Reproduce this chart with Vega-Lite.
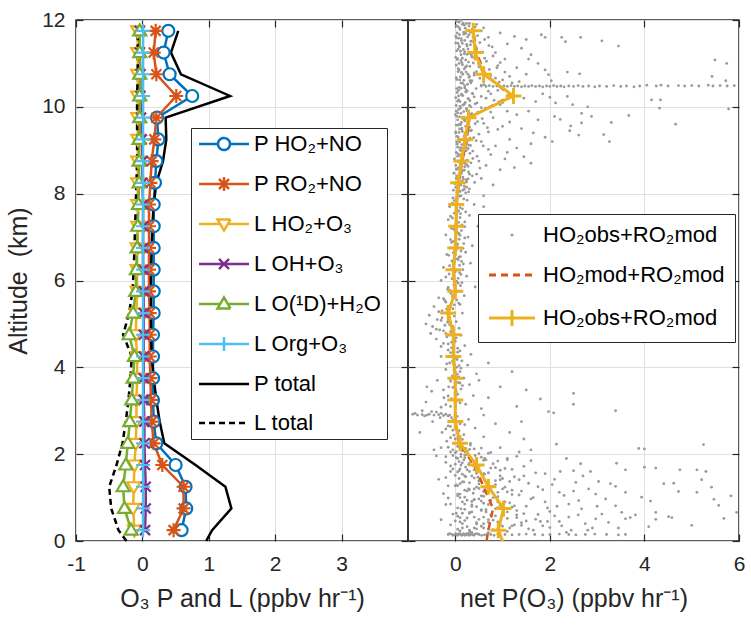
{
"$schema": "https://vega.github.io/schema/vega-lite/v6.json",
"background": "white",
"padding": {"left": 5, "top": 8, "right": 5, "bottom": 5},
"spacing": 0,
"bounds": "flush",
"datasets": {
"prof": [
{"s":"P HO₂+NO","a":0.25,"v":0.59},{"s":"P HO₂+NO","a":0.75,"v":0.66},{"s":"P HO₂+NO","a":1.25,"v":0.65},{"s":"P HO₂+NO","a":1.75,"v":0.5},{"s":"P HO₂+NO","a":2.25,"v":0.21},{"s":"P HO₂+NO","a":2.75,"v":0.17},{"s":"P HO₂+NO","a":3.25,"v":0.16},{"s":"P HO₂+NO","a":3.75,"v":0.16},{"s":"P HO₂+NO","a":4.25,"v":0.16},{"s":"P HO₂+NO","a":4.75,"v":0.16},{"s":"P HO₂+NO","a":5.25,"v":0.17},{"s":"P HO₂+NO","a":5.75,"v":0.17},{"s":"P HO₂+NO","a":6.25,"v":0.17},{"s":"P HO₂+NO","a":6.75,"v":0.17},{"s":"P HO₂+NO","a":7.25,"v":0.17},{"s":"P HO₂+NO","a":7.75,"v":0.17},{"s":"P HO₂+NO","a":8.25,"v":0.19},{"s":"P HO₂+NO","a":8.75,"v":0.21},{"s":"P HO₂+NO","a":9.25,"v":0.24},{"s":"P HO₂+NO","a":9.75,"v":0.22},{"s":"P HO₂+NO","a":10.25,"v":0.75},{"s":"P HO₂+NO","a":10.75,"v":0.41},{"s":"P HO₂+NO","a":11.25,"v":0.32},{"s":"P HO₂+NO","a":11.75,"v":0.39},
{"s":"P RO₂+NO","a":0.25,"v":0.47},{"s":"P RO₂+NO","a":0.75,"v":0.62},{"s":"P RO₂+NO","a":1.25,"v":0.62},{"s":"P RO₂+NO","a":1.75,"v":0.3},{"s":"P RO₂+NO","a":2.25,"v":0.17},{"s":"P RO₂+NO","a":2.75,"v":0.14},{"s":"P RO₂+NO","a":3.25,"v":0.13},{"s":"P RO₂+NO","a":3.75,"v":0.12},{"s":"P RO₂+NO","a":4.25,"v":0.11},{"s":"P RO₂+NO","a":4.75,"v":0.11},{"s":"P RO₂+NO","a":5.25,"v":0.11},{"s":"P RO₂+NO","a":5.75,"v":0.1},{"s":"P RO₂+NO","a":6.25,"v":0.1},{"s":"P RO₂+NO","a":6.75,"v":0.1},{"s":"P RO₂+NO","a":7.25,"v":0.1},{"s":"P RO₂+NO","a":7.75,"v":0.1},{"s":"P RO₂+NO","a":8.25,"v":0.12},{"s":"P RO₂+NO","a":8.75,"v":0.14},{"s":"P RO₂+NO","a":9.25,"v":0.18},{"s":"P RO₂+NO","a":9.75,"v":0.21},{"s":"P RO₂+NO","a":10.25,"v":0.51},{"s":"P RO₂+NO","a":10.75,"v":0.21},{"s":"P RO₂+NO","a":11.25,"v":0.17},{"s":"P RO₂+NO","a":11.75,"v":0.2},
{"s":"L HO₂+O₃","a":0.25,"v":-0.12},{"s":"L HO₂+O₃","a":0.75,"v":-0.14},{"s":"L HO₂+O₃","a":1.25,"v":-0.13},{"s":"L HO₂+O₃","a":1.75,"v":-0.12},{"s":"L HO₂+O₃","a":2.25,"v":-0.1},{"s":"L HO₂+O₃","a":2.75,"v":-0.09},{"s":"L HO₂+O₃","a":3.25,"v":-0.09},{"s":"L HO₂+O₃","a":3.75,"v":-0.08},{"s":"L HO₂+O₃","a":4.25,"v":-0.08},{"s":"L HO₂+O₃","a":4.75,"v":-0.1},{"s":"L HO₂+O₃","a":5.25,"v":-0.09},{"s":"L HO₂+O₃","a":5.75,"v":-0.08},{"s":"L HO₂+O₃","a":6.25,"v":-0.08},{"s":"L HO₂+O₃","a":6.75,"v":-0.08},{"s":"L HO₂+O₃","a":7.25,"v":-0.07},{"s":"L HO₂+O₃","a":7.75,"v":-0.07},{"s":"L HO₂+O₃","a":8.25,"v":-0.07},{"s":"L HO₂+O₃","a":8.75,"v":-0.07},{"s":"L HO₂+O₃","a":9.25,"v":-0.07},{"s":"L HO₂+O₃","a":9.75,"v":-0.07},{"s":"L HO₂+O₃","a":10.25,"v":-0.07},{"s":"L HO₂+O₃","a":10.75,"v":-0.07},{"s":"L HO₂+O₃","a":11.25,"v":-0.07},{"s":"L HO₂+O₃","a":11.75,"v":-0.07},
{"s":"L OH+O₃","a":0.25,"v":0.04},{"s":"L OH+O₃","a":0.75,"v":0.05},{"s":"L OH+O₃","a":1.25,"v":0.05},{"s":"L OH+O₃","a":1.75,"v":0.04},{"s":"L OH+O₃","a":2.25,"v":0.03},{"s":"L OH+O₃","a":2.75,"v":0.03},{"s":"L OH+O₃","a":3.25,"v":0.02},{"s":"L OH+O₃","a":3.75,"v":0.02},{"s":"L OH+O₃","a":4.25,"v":0.02},{"s":"L OH+O₃","a":4.75,"v":0.02},{"s":"L OH+O₃","a":5.25,"v":0.02},{"s":"L OH+O₃","a":5.75,"v":0.02},{"s":"L OH+O₃","a":6.25,"v":0.01},{"s":"L OH+O₃","a":6.75,"v":0.01},{"s":"L OH+O₃","a":7.25,"v":0.01},{"s":"L OH+O₃","a":7.75,"v":0.01},{"s":"L OH+O₃","a":8.25,"v":0.0},{"s":"L OH+O₃","a":8.75,"v":0.0},{"s":"L OH+O₃","a":9.25,"v":-0.01},{"s":"L OH+O₃","a":9.75,"v":-0.02},{"s":"L OH+O₃","a":10.25,"v":-0.03},{"s":"L OH+O₃","a":10.75,"v":-0.03},{"s":"L OH+O₃","a":11.25,"v":-0.04},{"s":"L OH+O₃","a":11.75,"v":-0.04},
{"s":"L O(¹D)+H₂O","a":0.25,"v":-0.17},{"s":"L O(¹D)+H₂O","a":0.75,"v":-0.27},{"s":"L O(¹D)+H₂O","a":1.25,"v":-0.29},{"s":"L O(¹D)+H₂O","a":1.75,"v":-0.25},{"s":"L O(¹D)+H₂O","a":2.25,"v":-0.22},{"s":"L O(¹D)+H₂O","a":2.75,"v":-0.19},{"s":"L O(¹D)+H₂O","a":3.25,"v":-0.16},{"s":"L O(¹D)+H₂O","a":3.75,"v":-0.14},{"s":"L O(¹D)+H₂O","a":4.25,"v":-0.12},{"s":"L O(¹D)+H₂O","a":4.75,"v":-0.2},{"s":"L O(¹D)+H₂O","a":5.25,"v":-0.14},{"s":"L O(¹D)+H₂O","a":5.75,"v":-0.1},{"s":"L O(¹D)+H₂O","a":6.25,"v":-0.09},{"s":"L O(¹D)+H₂O","a":6.75,"v":-0.08},{"s":"L O(¹D)+H₂O","a":7.25,"v":-0.07},{"s":"L O(¹D)+H₂O","a":7.75,"v":-0.06},{"s":"L O(¹D)+H₂O","a":8.25,"v":-0.05},{"s":"L O(¹D)+H₂O","a":8.75,"v":-0.05},{"s":"L O(¹D)+H₂O","a":9.25,"v":-0.05},{"s":"L O(¹D)+H₂O","a":9.75,"v":-0.04},{"s":"L O(¹D)+H₂O","a":10.25,"v":-0.04},{"s":"L O(¹D)+H₂O","a":10.75,"v":-0.04},{"s":"L O(¹D)+H₂O","a":11.25,"v":-0.04},{"s":"L O(¹D)+H₂O","a":11.75,"v":-0.04},
{"s":"L Org+O₃","a":0.25,"v":0.01},{"s":"L Org+O₃","a":0.75,"v":0.01},{"s":"L Org+O₃","a":1.25,"v":0.01},{"s":"L Org+O₃","a":1.75,"v":0.01},{"s":"L Org+O₃","a":2.25,"v":0.01},{"s":"L Org+O₃","a":2.75,"v":0.01},{"s":"L Org+O₃","a":3.25,"v":0.01},{"s":"L Org+O₃","a":3.75,"v":0.01},{"s":"L Org+O₃","a":4.25,"v":0.01},{"s":"L Org+O₃","a":4.75,"v":0.01},{"s":"L Org+O₃","a":5.25,"v":0.01},{"s":"L Org+O₃","a":5.75,"v":0.01},{"s":"L Org+O₃","a":6.25,"v":0.01},{"s":"L Org+O₃","a":6.75,"v":0.01},{"s":"L Org+O₃","a":7.25,"v":0.01},{"s":"L Org+O₃","a":7.75,"v":0.01},{"s":"L Org+O₃","a":8.25,"v":0.01},{"s":"L Org+O₃","a":8.75,"v":0.01},{"s":"L Org+O₃","a":9.25,"v":0.01},{"s":"L Org+O₃","a":9.75,"v":0.01},{"s":"L Org+O₃","a":10.25,"v":0.01},{"s":"L Org+O₃","a":10.75,"v":0.01},{"s":"L Org+O₃","a":11.25,"v":0.01},{"s":"L Org+O₃","a":11.75,"v":0.01},
{"s":"P total","a":0,"v":0.96},{"s":"P total","a":0.25,"v":1.05},{"s":"P total","a":0.75,"v":1.34},{"s":"P total","a":1.25,"v":1.25},{"s":"P total","a":1.75,"v":0.8},{"s":"P total","a":2.25,"v":0.33},{"s":"P total","a":2.75,"v":0.26},{"s":"P total","a":3.25,"v":0.21},{"s":"P total","a":3.75,"v":0.17},{"s":"P total","a":4.25,"v":0.14},{"s":"P total","a":4.75,"v":0.13},{"s":"P total","a":5.25,"v":0.13},{"s":"P total","a":5.75,"v":0.13},{"s":"P total","a":6.25,"v":0.13},{"s":"P total","a":6.75,"v":0.14},{"s":"P total","a":7.25,"v":0.15},{"s":"P total","a":7.75,"v":0.17},{"s":"P total","a":8.25,"v":0.21},{"s":"P total","a":8.75,"v":0.31},{"s":"P total","a":9.25,"v":0.36},{"s":"P total","a":9.75,"v":0.35},{"s":"P total","a":10.25,"v":1.32},{"s":"P total","a":10.75,"v":0.58},{"s":"P total","a":11.25,"v":0.43},{"s":"P total","a":11.75,"v":0.54},
{"s":"L total","a":0,"v":-0.24},{"s":"L total","a":0.25,"v":-0.36},{"s":"L total","a":0.75,"v":-0.47},{"s":"L total","a":1.25,"v":-0.5},{"s":"L total","a":1.75,"v":-0.39},{"s":"L total","a":2.25,"v":-0.3},{"s":"L total","a":2.75,"v":-0.25},{"s":"L total","a":3.25,"v":-0.21},{"s":"L total","a":3.75,"v":-0.18},{"s":"L total","a":4.25,"v":-0.16},{"s":"L total","a":4.75,"v":-0.29},{"s":"L total","a":5.25,"v":-0.2},{"s":"L total","a":5.75,"v":-0.15},{"s":"L total","a":6.25,"v":-0.13},{"s":"L total","a":6.75,"v":-0.12},{"s":"L total","a":7.25,"v":-0.11},{"s":"L total","a":7.75,"v":-0.1},{"s":"L total","a":8.25,"v":-0.09},{"s":"L total","a":8.75,"v":-0.08},{"s":"L total","a":9.25,"v":-0.08},{"s":"L total","a":9.75,"v":-0.08},{"s":"L total","a":10.25,"v":-0.08},{"s":"L total","a":10.75,"v":-0.07},{"s":"L total","a":11.25,"v":-0.07},{"s":"L total","a":11.75,"v":-0.07}
],
"net": [
{"k":"obs","a":0,"x":1.0},{"k":"obs","a":0.25,"x":0.91},{"k":"obs","a":0.75,"x":1.02},{"k":"obs","a":1.25,"x":0.7},{"k":"obs","a":1.75,"x":0.45},{"k":"obs","a":2.25,"x":0.1},{"k":"obs","a":2.75,"x":0.0},{"k":"obs","a":3.25,"x":0.0},{"k":"obs","a":3.75,"x":0.0},{"k":"obs","a":4.25,"x":-0.04},{"k":"obs","a":4.75,"x":-0.04},{"k":"obs","a":5.25,"x":-0.15},{"k":"obs","a":5.75,"x":0.0},{"k":"obs","a":6.25,"x":-0.04},{"k":"obs","a":6.75,"x":0.0},{"k":"obs","a":7.25,"x":0.02},{"k":"obs","a":7.75,"x":0.02},{"k":"obs","a":8.25,"x":0.06},{"k":"obs","a":8.75,"x":0.13},{"k":"obs","a":9.25,"x":0.21},{"k":"obs","a":9.75,"x":0.28},{"k":"obs","a":10.25,"x":1.23},{"k":"obs","a":10.75,"x":0.6},{"k":"obs","a":11.25,"x":0.42},{"k":"obs","a":11.75,"x":0.38},
{"k":"mod","a":0,"x":0.66},{"k":"mod","a":0.25,"x":0.7},{"k":"mod","a":0.75,"x":0.8},{"k":"mod","a":1.25,"x":0.6},{"k":"mod","a":1.75,"x":0.4},{"k":"mod","a":2.25,"x":0.08},{"k":"mod","a":2.75,"x":0.0},{"k":"mod","a":3.25,"x":0.0},{"k":"mod","a":3.75,"x":0.0},{"k":"mod","a":4.25,"x":-0.04},{"k":"mod","a":4.75,"x":-0.04},{"k":"mod","a":5.25,"x":-0.15},{"k":"mod","a":5.75,"x":0.0},{"k":"mod","a":6.25,"x":-0.04},{"k":"mod","a":6.75,"x":0.0},{"k":"mod","a":7.25,"x":0.02},{"k":"mod","a":7.75,"x":0.03},{"k":"mod","a":8.25,"x":0.07},{"k":"mod","a":8.75,"x":0.15},{"k":"mod","a":9.25,"x":0.24},{"k":"mod","a":9.75,"x":0.3},{"k":"mod","a":10.25,"x":1.18},{"k":"mod","a":10.75,"x":0.63},{"k":"mod","a":11.25,"x":0.45},{"k":"mod","a":11.75,"x":0.38}
],
"pts": [
{"x":0.08,"a":11.95},{"x":0.3,"a":11.92},{"x":0.15,"a":11.9},{"x":0.02,"a":11.87},{"x":0.42,"a":11.84},{"x":0.21,"a":11.81},{"x":0.1,"a":11.78},{"x":0.55,"a":11.75},{"x":0.33,"a":11.72},{"x":0.04,"a":11.7},{"x":0.18,"a":11.67},{"x":0.47,"a":11.64},{"x":0.26,"a":11.61},{"x":0.07,"a":11.58},{"x":0.62,"a":11.55},{"x":0.13,"a":11.52},{"x":0.38,"a":11.5},{"x":0.01,"a":11.47},{"x":0.24,"a":11.44},{"x":0.71,"a":11.41},{"x":0.09,"a":11.38},{"x":0.45,"a":11.35},{"x":0.17,"a":11.32},{"x":0.03,"a":11.29},{"x":0.58,"a":11.26},{"x":0.29,"a":11.23},{"x":0.12,"a":11.2},{"x":0.8,"a":11.17},{"x":0.36,"a":11.14},{"x":0.05,"a":11.11},{"x":0.22,"a":11.08},{"x":0.66,"a":11.05},{"x":0.14,"a":11.02},{"x":0.49,"a":10.99},{"x":0.02,"a":10.96},{"x":0.31,"a":10.93},{"x":0.88,"a":10.9},{"x":0.19,"a":10.87},{"x":0.57,"a":10.84},{"x":0.06,"a":10.81},{"x":0.4,"a":10.78},{"x":0.27,"a":10.75},{"x":0.75,"a":10.72},{"x":0.11,"a":10.69},{"x":0.52,"a":10.66},{"x":0.03,"a":10.63},{"x":0.35,"a":10.6},{"x":0.93,"a":10.57},{"x":0.16,"a":10.54},{"x":0.61,"a":10.51},{"x":0.08,"a":10.45},{"x":0.44,"a":10.42},{"x":0.23,"a":10.39},{"x":0.7,"a":10.36},{"x":0.04,"a":10.33},{"x":0.37,"a":10.3},{"x":0.14,"a":10.27},{"x":0.55,"a":10.24},{"x":0.01,"a":10.21},{"x":0.28,"a":10.18},{"x":0.82,"a":10.15},{"x":0.1,"a":10.12},{"x":0.46,"a":10.09},{"x":0.19,"a":10.06},{"x":0.02,"a":10.03},{"x":0.33,"a":10.0},{"x":0.64,"a":9.97},{"x":0.07,"a":9.94},{"x":0.25,"a":9.91},{"x":0.48,"a":9.88},{"x":0.12,"a":9.85},{"x":0.0,"a":9.82},{"x":0.38,"a":9.79},{"x":0.17,"a":9.76},{"x":0.57,"a":9.73},{"x":0.05,"a":9.7},{"x":0.29,"a":9.67},{"x":0.13,"a":9.64},{"x":0.42,"a":9.61},{"x":0.02,"a":9.58},{"x":0.22,"a":9.55},{"x":0.68,"a":9.52},{"x":0.09,"a":9.49},{"x":0.34,"a":9.46},{"x":0.15,"a":9.43},{"x":0.01,"a":9.4},{"x":0.5,"a":9.37},{"x":0.2,"a":9.34},{"x":0.06,"a":9.31},{"x":0.31,"a":9.28},{"x":0.11,"a":9.25},{"x":0.44,"a":9.22},{"x":0.03,"a":9.19},{"x":0.24,"a":9.16},{"x":0.14,"a":9.13},{"x":0.59,"a":9.1},{"x":0.05,"a":9.07},{"x":0.27,"a":9.04},{"x":0.1,"a":9.01},{"x":0.37,"a":8.98},{"x":0.02,"a":8.95},{"x":0.18,"a":8.92},{"x":0.08,"a":8.89},{"x":0.46,"a":8.86},{"x":0.13,"a":8.83},{"x":-0.02,"a":8.8},{"x":0.25,"a":8.77},{"x":0.06,"a":8.74},{"x":0.33,"a":8.71},{"x":0.11,"a":8.68},{"x":0.01,"a":8.65},{"x":0.2,"a":8.62},{"x":0.52,"a":8.59},{"x":0.04,"a":8.56},{"x":0.15,"a":8.53},{"x":0.28,"a":8.5},{"x":-0.03,"a":8.47},{"x":0.09,"a":8.44},{"x":0.36,"a":8.41},{"x":0.16,"a":8.38},{"x":0.02,"a":8.35},{"x":0.23,"a":8.32},{"x":0.07,"a":8.29},{"x":0.41,"a":8.26},{"x":-0.01,"a":8.23},{"x":0.12,"a":8.2},{"x":0.19,"a":8.17},{"x":0.05,"a":8.14},{"x":0.3,"a":8.11},{"x":-0.04,"a":8.08},{"x":0.1,"a":8.05},{"x":0.22,"a":8.02},
{"x":0.19,"a":11.88},{"x":0.27,"a":11.76},{"x":0.09,"a":11.66},{"x":0.2,"a":11.53},{"x":0.32,"a":11.43},{"x":0.06,"a":11.33},{"x":0.25,"a":11.21},{"x":0.15,"a":11.12},{"x":0.08,"a":11.0},{"x":0.21,"a":10.91},{"x":0.13,"a":10.79},{"x":0.3,"a":10.7},{"x":0.18,"a":10.61},{"x":0.26,"a":10.52},{"x":0.12,"a":10.43},{"x":0.22,"a":10.34},{"x":0.07,"a":10.25},{"x":0.31,"a":10.14},{"x":0.16,"a":10.04},{"x":0.24,"a":9.95},{"x":0.05,"a":9.86},{"x":0.27,"a":9.77},{"x":0.2,"a":9.68},{"x":0.11,"a":9.59},{"x":0.26,"a":9.5},{"x":0.08,"a":9.41},{"x":0.19,"a":9.32},{"x":0.29,"a":9.23},{"x":0.04,"a":9.14},{"x":0.16,"a":9.05},
{"x":0.03,"a":11.97},{"x":0.17,"a":11.93},{"x":0.29,"a":11.86},{"x":0.09,"a":11.82},{"x":0.38,"a":11.74},{"x":0.22,"a":11.69},{"x":0.01,"a":11.63},{"x":0.13,"a":11.57},{"x":0.33,"a":11.51},{"x":0.06,"a":11.46},{"x":0.25,"a":11.4},{"x":0.44,"a":11.34},{"x":0.11,"a":11.28},{"x":0.19,"a":11.22},{"x":0.35,"a":11.16},{"x":0.04,"a":11.09},{"x":0.28,"a":11.03},{"x":0.15,"a":10.97},{"x":0.5,"a":10.92},{"x":0.08,"a":10.85},{"x":0.23,"a":10.8},{"x":0.4,"a":10.73},{"x":0.02,"a":10.67},{"x":0.31,"a":10.6},{"x":0.12,"a":10.55},{"x":0.55,"a":10.5},{"x":0.2,"a":10.44},{"x":0.07,"a":10.38},{"x":0.36,"a":10.31},{"x":0.16,"a":10.26},{"x":0.27,"a":10.19},{"x":0.05,"a":10.13},{"x":0.42,"a":10.07},{"x":0.1,"a":10.01},{"x":0.24,"a":9.96},{"x":0.18,"a":9.89},{"x":0.34,"a":9.83},{"x":0.03,"a":9.78},{"x":0.21,"a":9.71},{"x":0.47,"a":9.66},{"x":0.09,"a":9.6},{"x":0.3,"a":9.53},{"x":0.14,"a":9.47},{"x":0.01,"a":9.42},{"x":0.26,"a":9.36},{"x":0.39,"a":9.29},{"x":0.06,"a":9.24},{"x":0.19,"a":9.17},{"x":0.32,"a":9.11},{"x":0.11,"a":9.06},{"x":0.23,"a":8.99},{"x":0.04,"a":8.93},{"x":0.15,"a":8.87},{"x":0.37,"a":8.81},{"x":0.08,"a":8.75},{"x":0.2,"a":8.7},{"x":0.27,"a":8.63},{"x":0.02,"a":8.57},{"x":0.13,"a":8.52},{"x":0.3,"a":8.45},{"x":0.06,"a":8.39},{"x":0.17,"a":8.33},{"x":0.24,"a":8.27},{"x":0.1,"a":8.21},{"x":0.01,"a":8.15},{"x":0.19,"a":8.1},{"x":0.28,"a":8.04},
{"x":0.12,"a":11.99},{"x":0.24,"a":11.92},{"x":0.05,"a":11.85},{"x":0.36,"a":11.79},{"x":0.18,"a":11.72},{"x":0.29,"a":11.66},{"x":0.02,"a":11.59},{"x":0.41,"a":11.53},{"x":0.15,"a":11.46},{"x":0.08,"a":11.4},{"x":0.27,"a":11.33},{"x":0.2,"a":11.27},{"x":0.34,"a":11.2},{"x":0.01,"a":11.14},{"x":0.12,"a":11.07},{"x":0.38,"a":11.01},{"x":0.24,"a":10.94},{"x":0.06,"a":10.88},{"x":0.45,"a":10.81},{"x":0.16,"a":10.75},{"x":0.29,"a":10.68},{"x":0.09,"a":10.62},{"x":0.33,"a":10.55},{"x":0.2,"a":10.49},{"x":0.03,"a":10.42},{"x":0.25,"a":10.36},{"x":0.13,"a":10.29},{"x":0.4,"a":10.23},{"x":0.07,"a":10.16},{"x":0.21,"a":10.1},{"x":0.3,"a":10.03},{"x":0.11,"a":9.97},{"x":0.02,"a":9.9},{"x":0.35,"a":9.84},{"x":0.09,"a":9.77},{"x":0.18,"a":9.71},{"x":0.26,"a":9.64},{"x":0.06,"a":9.58},{"x":0.14,"a":9.51},{"x":0.32,"a":9.45},{"x":0.21,"a":9.38},{"x":0.03,"a":9.32},{"x":0.17,"a":9.25},{"x":0.09,"a":9.19},{"x":0.28,"a":9.12},{"x":0.22,"a":9.06},{"x":0.12,"a":8.99},{"x":0.31,"a":8.93},{"x":0.05,"a":8.86},{"x":0.16,"a":8.8},{"x":0.1,"a":8.73},{"x":0.24,"a":8.67},{"x":0.07,"a":8.6},{"x":0.19,"a":8.54},{"x":0.13,"a":8.47},{"x":0.03,"a":8.41},{"x":0.27,"a":8.34},{"x":0.14,"a":8.28},{"x":0.06,"a":8.21},{"x":0.24,"a":8.15},{"x":0.16,"a":8.08},{"x":0.04,"a":8.02},
{"x":0.45,"a":11.9},{"x":0.6,"a":11.82},{"x":0.7,"a":11.6},{"x":0.52,"a":11.48},{"x":0.78,"a":11.38},{"x":0.62,"a":11.12},{"x":0.95,"a":11.02},{"x":0.72,"a":10.86},{"x":1.05,"a":10.8},{"x":0.85,"a":10.66},{"x":0.6,"a":10.58},{"x":1.2,"a":10.55},{"x":0.9,"a":10.38},{"x":0.65,"a":10.2},{"x":1.0,"a":10.1},{"x":0.55,"a":9.98},{"x":0.75,"a":9.88},{"x":1.15,"a":9.65},{"x":0.6,"a":9.62},{"x":0.9,"a":9.48},{"x":0.55,"a":9.2},{"x":0.7,"a":9.02},{"x":1.1,"a":8.95},{"x":0.5,"a":8.75},{"x":0.45,"a":8.45},
{"x":0.95,"a":11.7},{"x":1.1,"a":11.45},{"x":1.25,"a":11.62},{"x":0.85,"a":11.25},{"x":1.4,"a":11.35},{"x":1.05,"a":11.1},{"x":1.6,"a":11.2},{"x":0.9,"a":10.95},{"x":1.3,"a":10.9},{"x":1.75,"a":11.0},{"x":1.15,"a":10.7},{"x":1.5,"a":10.75},{"x":1.0,"a":10.62},{"x":1.35,"a":10.58},{"x":0.75,"a":10.3},{"x":1.2,"a":10.25},{"x":1.45,"a":10.2},{"x":1.7,"a":10.12},{"x":0.95,"a":10.05},{"x":1.85,"a":10.3},{"x":2.0,"a":10.22},{"x":1.1,"a":9.9},{"x":1.3,"a":9.82},{"x":1.55,"a":9.9},{"x":0.8,"a":9.75},{"x":1.75,"a":9.7},{"x":2.1,"a":9.78},{"x":1.0,"a":9.55},{"x":1.4,"a":9.5},{"x":0.7,"a":9.42},{"x":1.65,"a":9.4},{"x":1.9,"a":9.3},{"x":1.15,"a":9.25},{"x":0.85,"a":9.1},{"x":1.3,"a":9.05},{"x":1.6,"a":9.15},{"x":2.05,"a":9.2},{"x":0.75,"a":8.9},{"x":1.05,"a":8.8},{"x":1.45,"a":8.85},{"x":0.65,"a":8.65},{"x":0.95,"a":8.55},{"x":1.25,"a":8.6},{"x":0.55,"a":8.35},{"x":0.8,"a":8.2},{"x":1.6,"a":8.7},{"x":0.6,"a":7.95},
{"x":1.82,"a":11.66},{"x":1.9,"a":11.6},{"x":2.25,"a":11.6},{"x":2.33,"a":11.5},{"x":2.65,"a":11.6},{"x":3.1,"a":11.52},{"x":3.45,"a":11.4},{"x":1.5,"a":11.55},{"x":1.55,"a":11.1},{"x":1.9,"a":10.85},{"x":1.97,"a":10.74},{"x":2.37,"a":10.8},{"x":2.63,"a":10.76},{"x":2.03,"a":10.6},{"x":5.49,"a":11.08},{"x":5.74,"a":11.0},{"x":5.43,"a":10.7},{"x":5.72,"a":10.6},{"x":4.15,"a":10.16},{"x":4.34,"a":10.16},{"x":4.32,"a":9.97},{"x":5.78,"a":9.95},{"x":4.66,"a":9.6},{"x":3.67,"a":9.8},{"x":3.3,"a":9.64},{"x":3.14,"a":9.36},{"x":3.26,"a":9.2},{"x":2.88,"a":9.78},{"x":2.67,"a":9.85},{"x":2.67,"a":9.63},{"x":2.44,"a":9.56},{"x":2.42,"a":9.45},{"x":2.61,"a":9.35},{"x":2.22,"a":9.71},{"x":2.12,"a":10.09},{"x":2.48,"a":10.05},{"x":2.8,"a":10.0},{"x":2.37,"a":10.24},
{"x":0.55,"a":10.48},{"x":0.65,"a":10.47},{"x":0.72,"a":10.49},{"x":0.8,"a":10.47},{"x":0.88,"a":10.48},{"x":0.96,"a":10.46},{"x":1.03,"a":10.48},{"x":1.1,"a":10.47},{"x":1.18,"a":10.49},{"x":1.25,"a":10.47},{"x":1.32,"a":10.48},{"x":1.4,"a":10.46},{"x":1.47,"a":10.48},{"x":1.55,"a":10.47},{"x":1.62,"a":10.49},{"x":1.7,"a":10.47},{"x":1.78,"a":10.48},{"x":1.85,"a":10.46},{"x":1.93,"a":10.48},{"x":2.0,"a":10.47},{"x":2.08,"a":10.49},{"x":2.15,"a":10.47},{"x":2.23,"a":10.48},{"x":2.3,"a":10.46},{"x":2.4,"a":10.48},{"x":2.5,"a":10.47},{"x":2.6,"a":10.49},{"x":2.7,"a":10.47},{"x":2.82,"a":10.48},{"x":2.95,"a":10.46},{"x":3.05,"a":10.48},{"x":3.2,"a":10.47},{"x":3.35,"a":10.49},{"x":3.5,"a":10.47},{"x":3.62,"a":10.48},{"x":3.78,"a":10.46},{"x":3.9,"a":10.48},{"x":4.05,"a":10.5},{"x":4.25,"a":10.48},{"x":4.35,"a":10.5},{"x":4.5,"a":10.48},{"x":4.72,"a":10.49},{"x":4.85,"a":10.48},{"x":5.0,"a":10.49},{"x":5.15,"a":10.48},{"x":5.35,"a":10.5},{"x":5.45,"a":10.48},{"x":5.6,"a":10.49},{"x":5.75,"a":10.48},{"x":5.9,"a":10.49},
{"x":0.12,"a":7.95},{"x":-0.05,"a":7.9},{"x":0.25,"a":7.85},{"x":0.03,"a":7.8},{"x":0.4,"a":7.75},{"x":-0.12,"a":7.7},{"x":0.15,"a":7.65},{"x":0.07,"a":7.6},{"x":-0.02,"a":7.55},{"x":0.3,"a":7.5},{"x":0.1,"a":7.45},{"x":-0.15,"a":7.4},{"x":0.2,"a":7.35},{"x":0.01,"a":7.3},{"x":0.48,"a":7.25},{"x":-0.08,"a":7.2},{"x":0.13,"a":7.15},{"x":0.05,"a":7.1},{"x":-0.2,"a":7.05},{"x":0.27,"a":7.0},{"x":0.08,"a":6.95},{"x":-0.04,"a":6.9},{"x":0.18,"a":6.85},{"x":0.36,"a":6.8},{"x":-0.1,"a":6.75},{"x":0.02,"a":6.7},{"x":0.22,"a":6.65},{"x":-0.18,"a":6.6},{"x":0.11,"a":6.55},{"x":0.04,"a":6.5},{"x":-0.07,"a":6.45},{"x":0.32,"a":6.4},{"x":0.09,"a":6.35},{"x":-0.25,"a":6.3},{"x":0.16,"a":6.25},{"x":0.0,"a":6.2},{"x":-0.13,"a":6.15},{"x":0.24,"a":6.1},{"x":0.06,"a":6.05},{"x":-0.3,"a":6.0},{"x":0.14,"a":5.95},{"x":-0.03,"a":5.9},{"x":0.42,"a":5.85},{"x":-0.16,"a":5.8},{"x":0.07,"a":5.75},{"x":-0.09,"a":5.7},{"x":0.19,"a":5.65},{"x":-0.35,"a":5.6},{"x":0.03,"a":5.55},{"x":-0.2,"a":5.5},{"x":0.1,"a":5.45},{"x":-0.45,"a":5.4},{"x":-0.05,"a":5.35},{"x":-0.28,"a":5.3},{"x":0.15,"a":5.25},{"x":-0.55,"a":5.2},{"x":-0.12,"a":5.15},{"x":-0.38,"a":5.1},{"x":0.02,"a":5.05},{"x":-0.62,"a":5.0},{"x":-0.22,"a":4.97},{"x":-0.48,"a":4.94},{"x":0.08,"a":4.9},{"x":-0.33,"a":4.86},{"x":-0.1,"a":4.82},{"x":-0.52,"a":4.78},{"x":0.12,"a":4.74},{"x":-0.18,"a":4.7},{"x":-0.4,"a":4.65},{"x":0.0,"a":4.6},{"x":-0.25,"a":4.55},{"x":0.2,"a":4.5},{"x":-0.08,"a":4.45},{"x":-0.15,"a":4.4},{"x":0.05,"a":4.35},{"x":0.33,"a":4.3},{"x":-0.3,"a":4.25},{"x":-0.02,"a":4.2},{"x":0.14,"a":4.15},{"x":-0.12,"a":4.1},{"x":0.26,"a":4.05},{"x":0.03,"a":4.0},{"x":-0.2,"a":3.95},{"x":0.1,"a":3.9},{"x":0.45,"a":3.85},{"x":-0.06,"a":3.8},{"x":0.18,"a":3.75},{"x":-0.38,"a":3.7},{"x":0.06,"a":3.65},{"x":0.3,"a":3.6},{"x":-0.14,"a":3.55},{"x":0.12,"a":3.5},{"x":-0.5,"a":3.45},{"x":0.01,"a":3.4},{"x":0.38,"a":3.35},{"x":-0.24,"a":3.3},{"x":0.09,"a":3.25},{"x":-0.62,"a":3.2},{"x":0.22,"a":3.15},{"x":-0.1,"a":3.1},{"x":0.55,"a":3.05},{"x":-0.7,"a":3.0},{"x":-0.4,"a":2.97},{"x":-0.85,"a":2.94},{"x":-0.2,"a":2.92},{"x":-0.6,"a":2.9},{"x":0.04,"a":2.87},{"x":-0.32,"a":2.84},{"x":0.28,"a":2.8},{"x":-0.48,"a":2.75},{"x":0.1,"a":2.7},{"x":-0.15,"a":2.65},{"x":0.42,"a":2.6},{"x":-0.05,"a":2.55},{"x":-0.28,"a":2.5},{"x":0.18,"a":2.45},{"x":0.6,"a":2.4},{"x":0.0,"a":2.35},{"x":-0.18,"a":2.3},{"x":0.32,"a":2.25},
{"x":0.05,"a":7.98},{"x":0.18,"a":7.88},{"x":-0.06,"a":7.78},{"x":0.1,"a":7.68},{"x":0.22,"a":7.58},{"x":-0.1,"a":7.48},{"x":0.02,"a":7.38},{"x":0.14,"a":7.28},{"x":-0.03,"a":7.18},{"x":0.08,"a":7.08},{"x":0.2,"a":6.98},{"x":-0.08,"a":6.88},{"x":0.04,"a":6.78},{"x":0.12,"a":6.68},{"x":-0.14,"a":6.58},{"x":0.06,"a":6.48},{"x":0.17,"a":6.38},{"x":-0.05,"a":6.28},{"x":0.09,"a":6.18},{"x":-0.2,"a":6.08},{"x":0.03,"a":5.98},{"x":0.11,"a":5.88},{"x":-0.12,"a":5.78},{"x":0.0,"a":5.68},{"x":-0.25,"a":5.58},{"x":0.07,"a":5.48},{"x":-0.15,"a":5.38},{"x":-0.35,"a":5.28},{"x":-0.02,"a":5.18},{"x":-0.3,"a":5.08},{"x":-0.12,"a":4.98},{"x":-0.4,"a":4.88},{"x":-0.2,"a":4.78},{"x":0.02,"a":4.68},{"x":-0.08,"a":4.58},{"x":-0.3,"a":4.48},{"x":0.1,"a":4.38},{"x":-0.05,"a":4.28},{"x":0.04,"a":4.18},{"x":-0.18,"a":4.08},{"x":0.12,"a":3.98},{"x":-0.02,"a":3.88},{"x":0.07,"a":3.78},{"x":-0.1,"a":3.68},{"x":0.15,"a":3.58},{"x":-0.25,"a":3.48},{"x":0.05,"a":3.38},{"x":-0.08,"a":3.28},{"x":0.1,"a":3.18},{"x":-0.3,"a":3.08},{"x":-0.5,"a":2.98},{"x":-0.15,"a":2.88},{"x":-0.05,"a":2.78},{"x":0.2,"a":2.68},{"x":-0.2,"a":2.58},{"x":0.05,"a":2.48},{"x":-0.1,"a":2.38},
{"x":0.09,"a":7.94},{"x":-0.02,"a":7.84},{"x":0.15,"a":7.74},{"x":0.03,"a":7.64},{"x":0.11,"a":7.54},{"x":-0.06,"a":7.44},{"x":0.07,"a":7.34},{"x":0.2,"a":7.24},{"x":0.0,"a":7.14},{"x":0.1,"a":7.04},{"x":-0.1,"a":6.94},{"x":0.05,"a":6.84},{"x":0.16,"a":6.74},{"x":-0.04,"a":6.64},{"x":0.08,"a":6.54},{"x":0.13,"a":6.44},{"x":-0.12,"a":6.34},{"x":0.04,"a":6.24},{"x":0.12,"a":6.14},{"x":-0.07,"a":6.04},{"x":0.06,"a":5.94},{"x":-0.15,"a":5.84},{"x":0.02,"a":5.74},{"x":-0.06,"a":5.64},{"x":-0.22,"a":5.54},{"x":-0.02,"a":5.44},{"x":-0.18,"a":5.34},{"x":-0.08,"a":5.24},{"x":-0.28,"a":5.14},{"x":-0.16,"a":5.04},{"x":-0.05,"a":4.94},{"x":-0.25,"a":4.84},{"x":-0.12,"a":4.74},{"x":-0.02,"a":4.64},{"x":-0.15,"a":4.54},{"x":0.05,"a":4.44},{"x":-0.1,"a":4.34},{"x":0.0,"a":4.24},{"x":-0.06,"a":4.14},{"x":0.08,"a":4.04},{"x":-0.03,"a":3.94},{"x":0.04,"a":3.84},{"x":-0.12,"a":3.74},{"x":0.1,"a":3.64},{"x":-0.05,"a":3.54},{"x":0.02,"a":3.44},{"x":-0.15,"a":3.34},{"x":0.06,"a":3.24},{"x":-0.2,"a":3.14},{"x":0.0,"a":3.04},{"x":-0.3,"a":2.94},{"x":-0.08,"a":2.84},{"x":0.12,"a":2.74},{"x":-0.1,"a":2.64},{"x":0.08,"a":2.54},{"x":-0.03,"a":2.44},{"x":0.15,"a":2.34},
{"x":-0.8,"a":2.9},{"x":-0.7,"a":2.91},{"x":-0.55,"a":2.92},{"x":-0.45,"a":2.9},{"x":-0.35,"a":2.91},{"x":-0.25,"a":2.89},{"x":-0.12,"a":2.9},
{"x":1.1,"a":7.3},{"x":0.75,"a":6.9},{"x":0.9,"a":6.2},{"x":0.6,"a":7.7},{"x":0.55,"a":5.9},{"x":1.05,"a":5.5},{"x":0.65,"a":5.05},{"x":0.8,"a":4.6},{"x":0.7,"a":4.1},{"x":1.2,"a":3.9},{"x":0.95,"a":3.55},{"x":1.5,"a":3.48},{"x":1.8,"a":3.27},{"x":1.97,"a":2.98},{"x":2.08,"a":2.95},{"x":2.5,"a":3.4},{"x":2.5,"a":3.15},{"x":3.39,"a":3.0},{"x":5.25,"a":2.22},{"x":3.88,"a":2.13},{"x":4.0,"a":2.12},{"x":2.14,"a":2.23},{"x":1.3,"a":3.1},{"x":0.85,"a":2.7},{"x":1.15,"a":2.5},{"x":0.7,"a":3.3},{"x":1.45,"a":2.35},{"x":0.6,"a":2.9},{"x":0.5,"a":3.7},{"x":0.9,"a":4.95},{"x":0.55,"a":6.6},{"x":1.4,"a":2.75},{"x":-0.6,"a":3.55},{"x":-0.75,"a":2.5},{"x":-0.45,"a":2.1},{"x":-0.9,"a":2.92},{"x":-0.65,"a":2.88},
{"x":0.05,"a":2.18},{"x":-0.3,"a":2.15},{"x":0.4,"a":2.12},{"x":0.15,"a":2.08},{"x":-0.1,"a":2.05},{"x":0.7,"a":2.02},{"x":0.25,"a":1.99},{"x":-0.4,"a":1.96},{"x":0.55,"a":1.93},{"x":0.05,"a":1.9},{"x":1.1,"a":1.87},{"x":0.35,"a":1.84},{"x":-0.2,"a":1.81},{"x":0.8,"a":1.78},{"x":0.12,"a":1.75},{"x":1.45,"a":1.72},{"x":0.48,"a":1.69},{"x":-0.05,"a":1.66},{"x":0.95,"a":1.63},{"x":0.3,"a":1.6},{"x":1.7,"a":1.57},{"x":0.62,"a":1.54},{"x":0.0,"a":1.51},{"x":1.25,"a":1.48},{"x":0.4,"a":1.45},{"x":-0.35,"a":1.42},{"x":0.85,"a":1.39},{"x":0.18,"a":1.36},{"x":1.55,"a":1.33},{"x":0.7,"a":1.3},{"x":0.05,"a":1.27},{"x":1.05,"a":1.24},{"x":0.5,"a":1.21},{"x":1.85,"a":1.18},{"x":0.25,"a":1.15},{"x":0.9,"a":1.12},{"x":-0.25,"a":1.09},{"x":1.35,"a":1.06},{"x":0.6,"a":1.03},{"x":0.1,"a":1.0},{"x":1.6,"a":0.97},{"x":0.75,"a":0.94},{"x":0.35,"a":0.91},{"x":1.15,"a":0.88},{"x":-0.1,"a":0.85},{"x":0.95,"a":0.82},{"x":0.45,"a":0.79},{"x":1.95,"a":0.76},{"x":0.2,"a":0.73},{"x":1.3,"a":0.7},{"x":0.65,"a":0.67},{"x":0.02,"a":0.64},{"x":1.75,"a":0.61},{"x":0.85,"a":0.58},{"x":0.4,"a":0.55},{"x":1.1,"a":0.52},{"x":-0.3,"a":0.49},{"x":1.5,"a":0.46},{"x":0.7,"a":0.43},{"x":0.15,"a":0.4},{"x":1.25,"a":0.37},{"x":0.55,"a":0.34},{"x":2.0,"a":0.31},{"x":0.9,"a":0.28},{"x":0.3,"a":0.25},
{"x":0.2,"a":1.98},{"x":0.02,"a":1.92},{"x":0.6,"a":1.86},{"x":0.15,"a":1.8},{"x":0.38,"a":1.74},{"x":0.75,"a":1.68},{"x":0.08,"a":1.62},{"x":0.45,"a":1.56},{"x":0.2,"a":1.5},{"x":1.0,"a":1.44},{"x":0.5,"a":1.38},{"x":0.1,"a":1.32},{"x":0.8,"a":1.26},{"x":0.28,"a":1.2},{"x":0.6,"a":1.14},{"x":0.05,"a":1.08},{"x":0.9,"a":1.02},{"x":0.4,"a":0.96},{"x":0.15,"a":0.9},{"x":0.7,"a":0.84},{"x":1.2,"a":0.78},{"x":0.55,"a":0.72},{"x":0.3,"a":0.66},{"x":1.0,"a":0.6},{"x":0.1,"a":0.54},{"x":0.8,"a":0.48},{"x":0.45,"a":0.42},{"x":1.4,"a":0.36},{"x":0.6,"a":0.3},{"x":0.05,"a":0.27},{"x":1.1,"a":0.22},{"x":0.35,"a":0.2},{"x":1.65,"a":0.25},{"x":0.25,"a":0.33},{"x":1.8,"a":0.45},{"x":1.45,"a":0.63},{"x":1.2,"a":1.17},{"x":1.35,"a":1.41},
{"x":0.1,"a":2.2},{"x":-0.15,"a":2.16},{"x":0.3,"a":2.11},{"x":0.02,"a":2.06},{"x":0.5,"a":2.01},{"x":-0.05,"a":1.97},{"x":0.2,"a":1.92},{"x":0.65,"a":1.87},{"x":0.08,"a":1.83},{"x":0.4,"a":1.78},{"x":-0.1,"a":1.73},{"x":0.85,"a":1.69},{"x":0.25,"a":1.64},{"x":0.05,"a":1.59},{"x":0.6,"a":1.55},{"x":0.35,"a":1.5},{"x":-0.2,"a":1.46},{"x":0.95,"a":1.41},{"x":0.15,"a":1.36},{"x":0.5,"a":1.31},{"x":0.0,"a":1.27},{"x":0.75,"a":1.22},{"x":0.3,"a":1.18},{"x":1.1,"a":1.13},{"x":0.1,"a":1.08},{"x":0.55,"a":1.04},{"x":-0.15,"a":0.99},{"x":0.4,"a":0.95},{"x":0.9,"a":0.9},{"x":0.2,"a":0.85},{"x":1.25,"a":0.81},{"x":0.05,"a":0.76},{"x":0.65,"a":0.72},{"x":0.35,"a":0.67},{"x":-0.05,"a":0.62},{"x":1.0,"a":0.58},{"x":0.25,"a":0.53},{"x":0.7,"a":0.49},{"x":0.1,"a":0.44},{"x":0.45,"a":0.39},{"x":1.2,"a":0.35},{"x":0.15,"a":0.3},{"x":0.8,"a":0.26},{"x":0.3,"a":0.21},
{"x":0.22,"a":2.13},{"x":0.0,"a":2.03},{"x":0.12,"a":1.94},{"x":0.45,"a":1.85},{"x":0.28,"a":1.76},{"x":0.1,"a":1.66},{"x":0.7,"a":1.57},{"x":0.22,"a":1.48},{"x":0.5,"a":1.39},{"x":0.02,"a":1.29},{"x":0.4,"a":1.2},{"x":0.65,"a":1.11},{"x":0.2,"a":1.01},{"x":0.55,"a":0.92},{"x":0.35,"a":0.83},{"x":0.85,"a":0.74},{"x":0.15,"a":0.64},{"x":0.6,"a":0.55},{"x":0.0,"a":0.46},{"x":0.95,"a":0.37},{"x":0.45,"a":0.28},{"x":0.7,"a":0.19},
{"x":0.32,"a":2.21},{"x":0.08,"a":2.17},{"x":0.55,"a":2.14},{"x":-0.05,"a":2.1},{"x":0.25,"a":2.07},{"x":0.75,"a":2.04},{"x":0.12,"a":2.0},{"x":0.42,"a":1.97},{"x":-0.2,"a":1.94},{"x":0.62,"a":1.9},{"x":0.18,"a":1.87},{"x":0.9,"a":1.84},{"x":0.3,"a":1.8},{"x":0.0,"a":1.77},{"x":0.52,"a":1.74},{"x":0.22,"a":1.7},{"x":1.05,"a":1.67},{"x":0.4,"a":1.64},{"x":-0.1,"a":1.6},{"x":0.7,"a":1.57},{"x":0.15,"a":1.54},{"x":0.95,"a":1.5},{"x":0.48,"a":1.47},{"x":0.08,"a":1.44},{"x":0.62,"a":1.4},{"x":1.15,"a":1.37},{"x":0.3,"a":1.34},{"x":0.85,"a":1.3},{"x":-0.15,"a":1.27},{"x":0.45,"a":1.24},{"x":1.0,"a":1.2},{"x":0.2,"a":1.17},{"x":0.7,"a":1.14},{"x":0.38,"a":1.1},{"x":1.2,"a":1.07},{"x":0.05,"a":1.04},{"x":0.8,"a":1.0},{"x":0.5,"a":0.97},{"x":0.25,"a":0.94},{"x":1.05,"a":0.9},{"x":0.6,"a":0.87},{"x":-0.2,"a":0.84},{"x":0.35,"a":0.8},{"x":0.9,"a":0.77},{"x":0.12,"a":0.74},{"x":0.55,"a":0.7},{"x":1.1,"a":0.67},{"x":0.3,"a":0.64},{"x":0.75,"a":0.6},{"x":0.05,"a":0.57},{"x":1.3,"a":0.54},{"x":0.5,"a":0.5},{"x":0.2,"a":0.47},{"x":0.9,"a":0.44},{"x":0.6,"a":0.4},{"x":-0.1,"a":0.37},{"x":1.0,"a":0.34},{"x":0.4,"a":0.3},{"x":0.7,"a":0.27},{"x":0.1,"a":0.23},
{"x":1.3,"a":1.95},{"x":1.6,"a":1.85},{"x":1.2,"a":1.65},{"x":1.9,"a":1.55},{"x":1.45,"a":1.5},{"x":2.1,"a":1.42},{"x":1.75,"a":1.25},{"x":1.4,"a":1.15},{"x":2.2,"a":1.12},{"x":1.65,"a":1.0},{"x":1.9,"a":0.9},{"x":2.4,"a":0.85},{"x":1.5,"a":0.8},{"x":2.0,"a":0.68},{"x":1.3,"a":0.6},{"x":2.6,"a":0.6},{"x":1.7,"a":0.5},{"x":2.2,"a":0.45},{"x":1.4,"a":0.42},{"x":1.85,"a":0.35},{"x":2.8,"a":0.25},{"x":1.55,"a":0.28},{"x":2.35,"a":0.2},{"x":1.15,"a":0.3},{"x":3.0,"a":0.8},{"x":2.5,"a":1.15},{"x":1.1,"a":1.9},{"x":1.35,"a":2.05},{"x":1.6,"a":2.1},{"x":0.95,"a":2.15},
{"x":2.22,"a":1.6},{"x":2.5,"a":1.62},{"x":2.65,"a":1.78},{"x":2.86,"a":1.6},{"x":3.03,"a":1.37},{"x":3.28,"a":1.32},{"x":3.41,"a":1.79},{"x":3.6,"a":1.64},{"x":3.39,"a":1.26},{"x":3.6,"a":1.12},{"x":3.94,"a":1.01},{"x":4.0,"a":1.7},{"x":4.24,"a":1.68},{"x":4.41,"a":1.32},{"x":4.62,"a":1.33},{"x":4.75,"a":1.64},{"x":4.72,"a":1.14},{"x":5.11,"a":1.64},{"x":5.3,"a":1.6},{"x":5.21,"a":1.41},{"x":5.42,"a":1.24},{"x":5.11,"a":1.12},{"x":5.47,"a":0.96},{"x":5.83,"a":1.04},{"x":5.57,"a":0.82},{"x":5.68,"a":0.52},{"x":5.95,"a":0.66},{"x":5.0,"a":0.36},{"x":4.58,"a":0.54},{"x":4.24,"a":0.66},{"x":4.24,"a":0.5},{"x":4.09,"a":0.33},{"x":3.7,"a":0.54},{"x":3.52,"a":0.66},{"x":3.39,"a":0.81},{"x":3.18,"a":0.97},{"x":2.97,"a":1.08},{"x":2.82,"a":1.2},{"x":2.61,"a":0.93},{"x":2.67,"a":0.74},{"x":3.1,"a":0.62},{"x":3.24,"a":0.43},{"x":2.97,"a":0.51},{"x":3.6,"a":0.51},{"x":3.81,"a":0.6},{"x":4.51,"a":0.56},{"x":4.13,"a":0.92},{"x":2.3,"a":1.05},{"x":2.4,"a":0.55},{"x":2.15,"a":0.8},{"x":2.55,"a":1.35},{"x":2.25,"a":0.35},{"x":2.75,"a":0.4},{"x":2.05,"a":1.3},{"x":2.35,"a":1.9},{"x":2.9,"a":0.3},{"x":3.45,"a":0.3},{"x":2.1,"a":0.58},{"x":2.45,"a":0.25},{"x":1.95,"a":0.45},{"x":2.7,"a":1.5},
{"x":-0.15,"a":0.15},{"x":-0.08,"a":0.16},{"x":-0.02,"a":0.14},{"x":0.03,"a":0.15},{"x":0.07,"a":0.16},{"x":0.11,"a":0.15},{"x":0.15,"a":0.14},{"x":0.19,"a":0.15},{"x":0.23,"a":0.16},{"x":0.27,"a":0.15},{"x":0.31,"a":0.14},{"x":0.36,"a":0.15},{"x":0.42,"a":0.16},{"x":0.5,"a":0.15},{"x":0.62,"a":0.14},{"x":0.75,"a":0.15},{"x":0.9,"a":0.16},{"x":1.05,"a":0.15},{"x":1.2,"a":0.14},{"x":1.35,"a":0.15},{"x":1.5,"a":0.16},{"x":1.68,"a":0.15},{"x":1.85,"a":0.14},{"x":2.0,"a":0.15},{"x":2.2,"a":0.16},{"x":2.4,"a":0.15},{"x":2.55,"a":0.14},{"x":2.75,"a":0.15},{"x":2.95,"a":0.16},{"x":3.2,"a":0.15},{"x":3.45,"a":0.14},{"x":3.6,"a":0.15},
{"x":-0.12,"a":0.17},{"x":-0.05,"a":0.13},{"x":0.01,"a":0.17},{"x":0.05,"a":0.13},{"x":0.09,"a":0.17},{"x":0.13,"a":0.13},{"x":0.17,"a":0.17},{"x":0.21,"a":0.13},{"x":0.25,"a":0.17},{"x":0.29,"a":0.13},{"x":0.33,"a":0.17},{"x":0.39,"a":0.13},{"x":0.46,"a":0.17},{"x":0.56,"a":0.13},{"x":0.68,"a":0.17},{"x":0.82,"a":0.13}
]
},
"hconcat": [
{
"width": 332, "height": 521,
"data": {"name": "prof"},
"layer": [
{
"transform": [{"filter": "datum.s !== 'L total'"}],
"mark": {"type": "line", "strokeWidth": 2.5},
"encoding": {
"x": {"field": "v", "type": "quantitative", "scale": {"domain": [-1, 4], "nice": false, "zero": false}, "axis": {"orient": "bottom", "values": [-1, 0, 1, 2, 3], "title": "O₃ P and L (ppbv hr⁻¹)", "labelExpr": "replace(datum.label, '−', '-')"}},
"y": {"field": "a", "type": "quantitative", "scale": {"domain": [0, 12], "nice": false, "zero": false}, "axis": {"orient": "left", "values": [0, 2, 4, 6, 8, 10, 12], "title": "Altitude\u00a0\u00a0(km)"}},
"order": {"field": "a", "type": "quantitative"},
"stroke": {"field": "s", "type": "nominal",
"scale": {"domain": ["P HO₂+NO", "P RO₂+NO", "L HO₂+O₃", "L OH+O₃", "L O(¹D)+H₂O", "L Org+O₃", "P total", "L total"], "range": ["#0072BD", "#D95319", "#EDB120", "#7E2F8E", "#77AC30", "#4DBEEE", "#000000", "#000000"]},
"legend": {
"orient": "none", "legendX": 115, "legendY": 108, "title": null,
"fillColor": "white", "strokeColor": "#262626",
"padding": 5, "rowPadding": 17,
"labelFont": "Liberation Sans", "labelFontSize": 22, "labelColor": "#000000", "labelLimit": 0,
"symbolSize": 4, "symbolStrokeWidth": 2.5, "symbolOffset": 17, "labelOffset": 19,
"encode": {"symbols": {"update": {
"shape": {"signal": "['M-25,0L-6,0M6,0L25,0M-6,0A6,6 0 1,0 6,0A6,6 0 1,0 -6,0Z','M-25,0L25,0M0,-7L0,7M-5,-5L5,5M-5,5L5,-5','M-25,0L-3.84,0M3.84,0L25,0M-6.5,-4.5L6.5,-4.5L0,6.5Z','M-25,0L25,0M-5,-5L5,5M-5,5L5,-5','M-25,0L-3.84,0M3.84,0L25,0M-6.5,4.5L6.5,4.5L0,-6.5Z','M-25,0L25,0M0,-7L0,7','M-25,0L25,0','M-25,0L25,0'][indexof(['P HO₂+NO','P RO₂+NO','L HO₂+O₃','L OH+O₃','L O(¹D)+H₂O','L Org+O₃','P total','L total'], datum.value)]"},
"stroke": {"signal": "['#0072BD','#D95319','#EDB120','#7E2F8E','#77AC30','#4DBEEE','#000000','#000000'][indexof(['P HO₂+NO','P RO₂+NO','L HO₂+O₃','L OH+O₃','L O(¹D)+H₂O','L Org+O₃','P total','L total'], datum.value)]"},
"strokeDash": {"signal": "datum.value === 'L total' ? [6,4] : [1,0]"},
"fill": {"value": "white"},
"opacity": {"value": 1},
"size": {"value": 4},
"strokeWidth": {"value": 2.5}
}}}
}}
}
},
{
"transform": [{"filter": "datum.s === 'L total'"}],
"mark": {"type": "line", "strokeWidth": 2.5, "strokeDash": [6, 4]},
"encoding": {
"x": {"field": "v", "type": "quantitative", "axis": null},
"y": {"field": "a", "type": "quantitative", "axis": null},
"order": {"field": "a", "type": "quantitative"},
"stroke": {"field": "s", "type": "nominal"}
}
},
{
"transform": [{"filter": "datum.s !== 'P total' && datum.s !== 'L total'"}],
"mark": {"type": "point", "size": 4, "fill": "white", "strokeWidth": 2.2, "opacity": 1},
"encoding": {
"x": {"field": "v", "type": "quantitative", "axis": {"orient": "top", "values": [-1, 0, 1, 2, 3], "labels": false, "title": null, "grid": false}},
"y": {"field": "a", "type": "quantitative", "axis": {"orient": "right", "values": [0, 2, 4, 6, 8, 10, 12], "labels": false, "title": null, "grid": false}},
"stroke": {"field": "s", "type": "nominal"},
"shape": {"field": "s", "type": "nominal", "scale": {"domain": ["P HO₂+NO", "P RO₂+NO", "L HO₂+O₃", "L OH+O₃", "L O(¹D)+H₂O", "L Org+O₃"], "range": ["M-6,0A6,6 0 1,0 6,0A6,6 0 1,0 -6,0Z", "M-7,0L7,0M0,-7L0,7M-5,-5L5,5M-5,5L5,-5", "M-6.5,-4.5L6.5,-4.5L0,6.5Z", "M-5,-5L5,5M-5,5L5,-5", "M-6.5,4.5L6.5,4.5L0,-6.5Z", "M-7,0L7,0M0,-7L0,7"]}, "legend": null}
}
}
],
"resolve": {"axis": {"x": "independent", "y": "independent"}}
},
{
"width": 331, "height": 521,
"layer": [
{
"data": {"name": "pts"},
"mark": {"type": "circle", "size": 8, "opacity": 1, "color": "#9a9a9a", "strokeWidth": 0},
"encoding": {
"x": {"field": "x", "type": "quantitative", "scale": {"domain": [-1, 6], "nice": false, "zero": false}, "axis": {"orient": "bottom", "values": [0, 2, 4, 6], "title": "net P(O₃) (ppbv hr⁻¹)"}},
"y": {"field": "a", "type": "quantitative", "scale": {"domain": [0, 12], "nice": false, "zero": false}, "axis": {"orient": "left", "values": [0, 2, 4, 6, 8, 10, 12], "labels": false, "title": null}},
"stroke": {"datum": "pts", "type": "nominal"}
}
},
{
"data": {"name": "net"},
"transform": [{"filter": "datum.k === 'mod'"}],
"mark": {"type": "line", "strokeWidth": 2.5, "strokeDash": [7, 5]},
"encoding": {
"x": {"field": "x", "type": "quantitative", "axis": null},
"y": {"field": "a", "type": "quantitative", "axis": null},
"order": {"field": "a", "type": "quantitative"},
"stroke": {"field": "k", "type": "nominal",
"scale": {"domain": ["pts", "mod", "obs"], "range": ["#9a9a9a", "#D95319", "#EDB120"]},
"legend": {
"orient": "none", "legendX": 70, "legendY": 194, "title": null,
"fillColor": "white", "strokeColor": "#262626",
"padding": 10, "rowPadding": 18,
"labelFont": "Liberation Sans", "labelFontSize": 22, "labelColor": "#000000", "labelLimit": 0,
"labelExpr": "datum.value === 'mod' ? 'HO₂mod+RO₂mod' : 'HO₂obs+RO₂mod'",
"symbolSize": 4, "symbolStrokeWidth": 2.5, "symbolOffset": 13, "labelOffset": 20,
"encode": {"symbols": {"update": {
"shape": {"signal": "['M-1.3,0A1.3,1.3 0 1,0 1.3,0A1.3,1.3 0 1,0 -1.3,0Z','M-23,0L23,0','M-23,0L23,0M0,-8L0,8'][indexof(['pts','mod','obs'], datum.value)]"},
"stroke": {"signal": "['#9a9a9a','#D95319','#EDB120'][indexof(['pts','mod','obs'], datum.value)]"},
"fill": {"signal": "datum.value === 'pts' ? '#9a9a9a' : 'transparent'"},
"strokeDash": {"signal": "datum.value === 'mod' ? [7,5] : [1,0]"},
"strokeWidth": {"signal": "datum.value === 'pts' ? 0.5 : 3"},
"opacity": {"value": 1},
"size": {"value": 4}
}}}
}
}
}
},
{
"data": {"name": "net"},
"transform": [{"filter": "datum.k === 'obs'"}],
"mark": {"type": "line", "strokeWidth": 3},
"encoding": {
"x": {"field": "x", "type": "quantitative", "axis": null},
"y": {"field": "a", "type": "quantitative", "axis": null},
"order": {"field": "a", "type": "quantitative"},
"stroke": {"field": "k", "type": "nominal"}
}
},
{
"data": {"name": "net"},
"transform": [{"filter": "datum.k === 'obs' && datum.a > 0"}],
"mark": {"type": "point", "shape": "M-8,0L8,0M0,-8L0,8", "size": 4, "strokeWidth": 3, "opacity": 1},
"encoding": {
"x": {"field": "x", "type": "quantitative", "axis": {"orient": "top", "values": [0, 2, 4, 6], "labels": false, "title": null, "grid": false}},
"y": {"field": "a", "type": "quantitative", "axis": {"orient": "right", "values": [0, 2, 4, 6, 8, 10, 12], "labels": false, "title": null, "grid": false}},
"stroke": {"field": "k", "type": "nominal"}
}
}
],
"resolve": {"axis": {"x": "independent", "y": "independent"}}
}
],
"resolve": {
"scale": {"x": "independent", "y": "independent", "stroke": "independent", "shape": "independent"},
"legend": {"stroke": "independent"}
},
"config": {
"font": "Liberation Sans",
"view": {"stroke": "#262626", "strokeWidth": 1.5},
"axis": {
"domain": false, "grid": true, "gridColor": "#dfdfdf", "gridWidth": 1, "gridOpacity": 1,
"tickColor": "#262626", "tickSize": -7, "tickWidth": 1.2,
"labelFont": "Liberation Sans", "labelFontSize": 21, "labelColor": "#262626", "labelFlush": false, "labelOverlap": false,
"titleFont": "Liberation Sans", "titleFontSize": 25, "titleFontWeight": "normal", "titleColor": "#262626"
},
"axisX": {"labelPadding": 19, "titlePadding": 12},
"axisY": {"labelPadding": 18, "titlePadding": 10}
}
}
